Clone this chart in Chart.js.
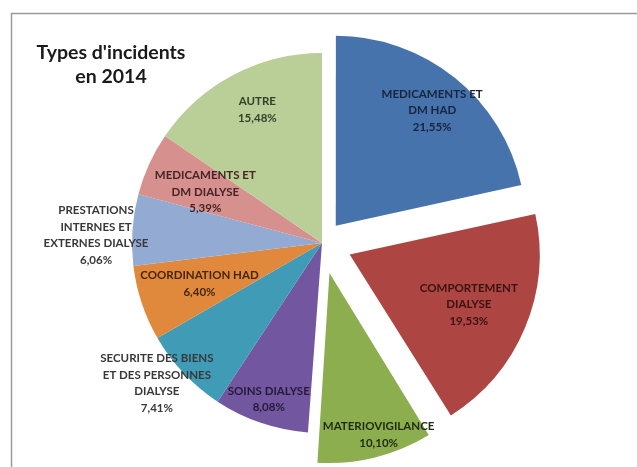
<!DOCTYPE html>
<html lang="fr">
<head>
    <meta charset="UTF-8">
    <title>Types d'incidents en 2014</title>
    <script src="https://cdn.jsdelivr.net/npm/chart.js"></script>
    <style>
        html, body { margin: 0; padding: 0; background: #fff; }
        #wrap { width: 637px; height: 467px; }
    </style>
</head>
<body>
    <div id="wrap"><canvas id="pieChart" width="637" height="467"></canvas></div>

    <script>
        // === données ===
        const categories = [
            ["MEDICAMENTS ET", "DM HAD"],
            ["COMPORTEMENT", "DIALYSE"],
            ["MATERIOVIGILANCE"],
            ["SOINS DIALYSE"],
            ["SECURITE DES BIENS", "ET DES PERSONNES", "DIALYSE"],
            ["COORDINATION HAD"],
            ["PRESTATIONS", "INTERNES ET", "EXTERNES DIALYSE"],
            ["MEDICAMENTS ET", "DM DIALYSE"],
            ["AUTRE"]
        ];
        const percentages = [21.55, 19.53, 10.10, 8.08, 7.41, 6.40, 6.06, 5.39, 15.48];
        const titleLines = ["Types d'incidents", "en 2014"];

        // === styles ===
        const sliceColors = ["#4673ab", "#ad4542", "#8cae4f", "#7257a0", "#3f9bb6",
                             "#e0893c", "#93abd3", "#d6918f", "#b9cf97"];
        const labelColors = ["#17243f", "#3a1212", "#1f2b0c", "#241a38", "#383838",
                             "#462508", "#383838", "#452424", "#33402a"];
        const sliceOffsets = [88, 120, 124, 0, 0, 0, 0, 0, 0];
        // position des étiquettes : fraction du rayon, décalage d'angle (degrés)
        const labelRadius = [0.79, 0.68, 0.89, 0.87, 1.14, 0.68, 1.19, 0.67, 0.78];
        const labelShift = [1, 0, -2.5, 0, 3, 0, -2, -1, 2];

        function fmt(v) {
            return v.toFixed(2).replace(".", ",") + "%";
        }

        // Chart.js agrandit le rayon des petites parts décalées : on annule cet effet
        const keepRadius = {
            id: "keepRadius",
            afterDatasetsUpdate(chart) {
                chart.getDatasetMeta(0).data.forEach((arc, i) => {
                    const t = (sliceOffsets[i] || 0) / 4;
                    const fix = 1 - Math.sin(Math.min(Math.PI, arc.circumference || 0));
                    arc.$baseRadius = arc.outerRadius;
                    arc.outerRadius -= t * fix;
                });
            }
        };

        // cadre + titre
        const frame = {
            id: "frame",
            beforeDraw(chart) {
                const ctx = chart.ctx;
                ctx.save();
                ctx.fillStyle = "#ffffff";
                ctx.fillRect(0, 0, chart.width, chart.height);
                ctx.strokeStyle = "#9a9a9a";
                ctx.lineWidth = 1.5;
                ctx.beginPath();
                ctx.moveTo(11.5, chart.height);
                ctx.lineTo(11.5, 13.5);
                ctx.lineTo(chart.width, 13.5);
                ctx.stroke();
                ctx.restore();
            },
            afterDraw(chart) {
                const ctx = chart.ctx;
                ctx.save();
                ctx.fillStyle = "#1a1a1a";
                ctx.font = "bold 19.5px Lato";
                ctx.textAlign = "center";
                ctx.textBaseline = "alphabetic";
                titleLines.forEach((line, k) => {
                    ctx.fillText(line, 111, 59 + k * 24);
                });
                ctx.restore();
            }
        };

        // étiquettes dans / près des parts
        const sliceLabels = {
            id: "sliceLabels",
            afterDatasetsDraw(chart) {
                const ctx = chart.ctx;
                const arcs = chart.getDatasetMeta(0).data;
                ctx.save();
                ctx.font = "bold 11.5px Lato";
                ctx.textAlign = "center";
                ctx.textBaseline = "middle";
                arcs.forEach((arc, i) => {
                    const mid = (arc.startAngle + arc.endAngle) / 2 + labelShift[i] * Math.PI / 180;
                    const t = sliceOffsets[i] / 4;
                    const r = t + labelRadius[i] * (arc.$baseRadius || arc.outerRadius);
                    const cx = arc.x + Math.cos(mid) * r;
                    const cy = arc.y + Math.sin(mid) * r;
                    const lines = categories[i].concat([fmt(percentages[i])]);
                    const lh = 16.5;
                    const y0 = cy - (lines.length - 1) * lh / 2;
                    ctx.fillStyle = labelColors[i];
                    lines.forEach((line, k) => ctx.fillText(line, cx, y0 + k * lh));
                });
                ctx.restore();
            }
        };

        const ctx = document.getElementById("pieChart").getContext("2d");
        new Chart(ctx, {
            type: "pie",
            data: {
                labels: categories,
                datasets: [{
                    data: percentages,
                    backgroundColor: sliceColors,
                    borderWidth: 0,
                    offset: sliceOffsets
                }]
            },
            options: {
                responsive: false,
                animation: false,
                radius: 190,
                layout: { padding: { left: 7, right: 0, top: 19, bottom: 0 } },
                plugins: {
                    legend: { display: false },
                    title: { display: false },
                    tooltip: { enabled: false }
                }
            },
            plugins: [keepRadius, frame, sliceLabels]
        });
    </script>
</body>
</html>
